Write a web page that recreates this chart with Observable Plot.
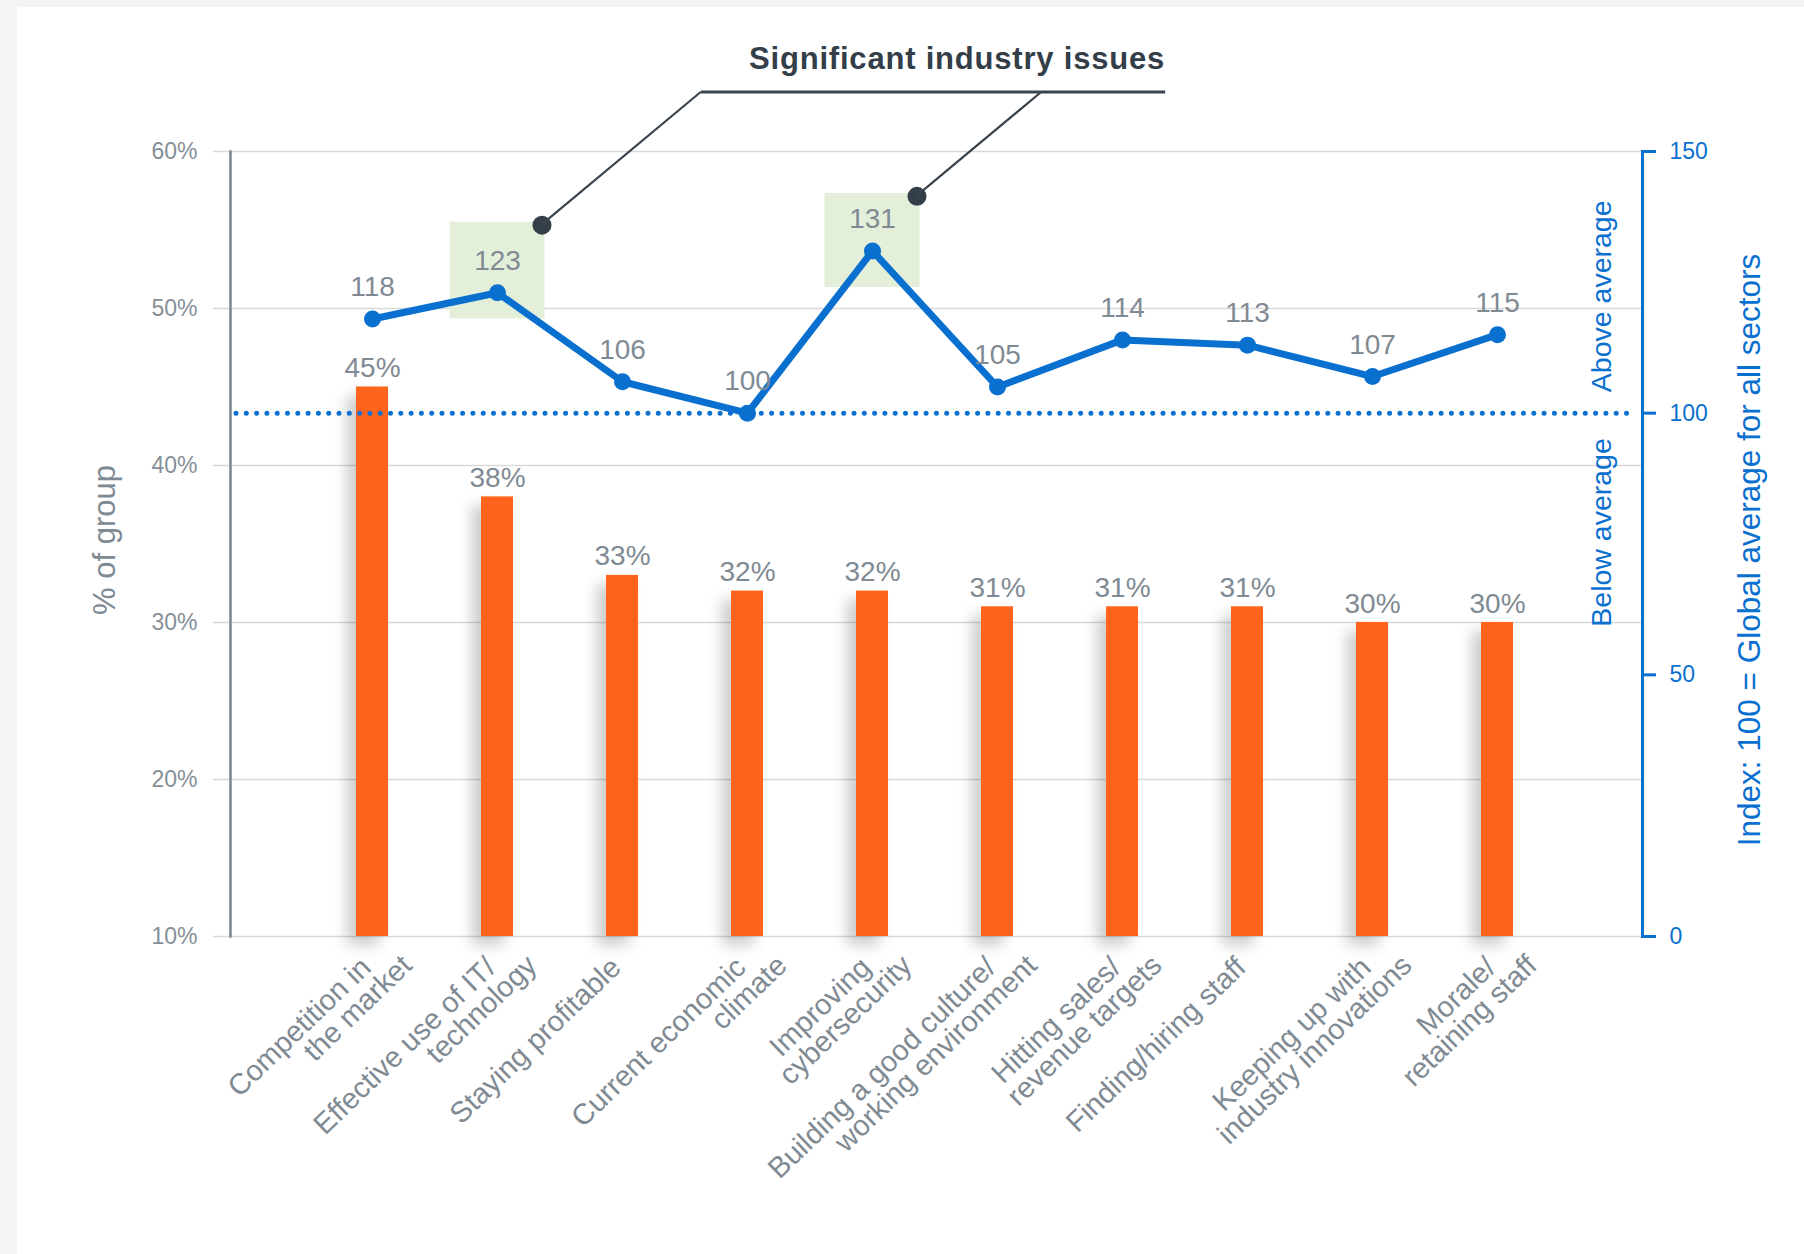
<!DOCTYPE html>
<html><head><meta charset="utf-8">
<script src="https://cdn.jsdelivr.net/npm/d3@7"></script>
<script src="https://cdn.jsdelivr.net/npm/@observablehq/plot@0.6"></script>
<style>
html,body{margin:0;padding:0;background:#f3f5f4;width:1804px;height:1254px;overflow:hidden}
#card{position:absolute;left:17px;top:7px;right:0;bottom:0;background:#fff}
#chart{position:absolute;left:0;top:0}
</style></head><body><div id="card"></div><div id="chart"></div>
<script>
// ---- data ----
const categories = [
  "Competition in\nthe market",
  "Effective use of IT/\ntechnology",
  "Staying profitable",
  "Current economic\nclimate",
  "Improving\ncybersecurity",
  "Building a good culture/\nworking environment",
  "Hitting sales/\nrevenue targets",
  "Finding/hiring staff",
  "Keeping up with\nindustry innovations",
  "Morale/\nretaining staff"
];
const shares = [45, 38, 33, 32, 32, 31, 31, 31, 30, 30];          // % of group
const indexValues = [118, 123, 106, 100, 131, 105, 114, 113, 107, 115]; // index (100 = global avg)
const highlighted = ["Effective use of IT/\ntechnology", "Improving\ncybersecurity"];
const highlightLow = [118, 124];     // index units
const highlightHigh = [136.5, 142];
const leftTicks = [10, 20, 30, 40, 50, 60];
const rightTicks = [0, 50, 100, 150];
const annotationTitle = "Significant industry issues";
const leftTitle = "% of group";
const rightTitle = "Index: 100 = Global average for all sectors";
const aboveLabel = "Above average";
const belowLabel = "Below average";

// ---- layout / style ----
const W = 1804, H = 1254, mL = 230, mR = 162, mT = 151, mB = 318;
const blue = "#0a70cf", orange = "#ff631a", grey = "#808a93", dark = "#333e48";
const pctDomain = [10, 60], idxDomain = [0, 150];
const pctOf = v => pctDomain[0] + (v - idxDomain[0]) * (pctDomain[1] - pctDomain[0]) / (idxDomain[1] - idxDomain[0]);
const idxOf = p => idxDomain[0] + (p - pctDomain[0]) * (idxDomain[1] - idxDomain[0]) / (pctDomain[1] - pctDomain[0]);

const data = categories.map((c, i) => {
  const parts = c.split("\n");
  return {cat: c, share: shares[i], idx: indexValues[i], l1: parts[0], l2: parts[1] || ""};
});
const hi = highlighted.map((c, i) => ({cat: c, lo: highlightLow[i], hi: highlightHigh[i]}));
const twoLine = data.filter(d => d.l2);

const plot = Plot.plot({
  width: W, height: H, marginLeft: mL, marginRight: mR, marginTop: mT, marginBottom: mB,
  style: {background: "transparent", fontFamily: "'Liberation Sans', Arial, Helvetica, sans-serif", overflow: "visible"},
  x: {domain: categories, range: [mL + 76, W - mR - 80], paddingInner: 0.745, paddingOuter: 0.3725, axis: null},
  y: {domain: pctDomain, axis: null},
  marks: [
    Plot.gridY(leftTicks, {stroke: "#d9d9d9", strokeOpacity: 1, strokeWidth: 1.5, insetLeft: -17}),
    Plot.barY(hi, {x: "cat", y1: d => pctOf(d.lo), y2: d => pctOf(d.hi), insetLeft: -31.5, insetRight: -31.5, fill: "#e3efd9"}),
    Plot.barY(data, {x: "cat", y1: pctDomain[0], y2: "share", fill: orange}),
    Plot.ruleY([pctOf(100)], {stroke: blue, strokeWidth: 5, strokeDasharray: "0 10.3", strokeLinecap: "round", insetLeft: 6, insetRight: 8}),
    Plot.line(data, {x: "cat", y: d => pctOf(d.idx), stroke: blue, strokeWidth: 7, strokeLinejoin: "round"}),
    Plot.dot(data, {x: "cat", y: d => pctOf(d.idx), r: 8.5, fill: blue}),
    Plot.text(data, {x: "cat", y: d => pctOf(d.idx), text: d => String(d.idx), dy: -23, lineAnchor: "bottom", fontSize: 28, fill: grey}),
    Plot.text(data, {x: "cat", y: "share", text: d => d.share + "%", dy: -10, lineAnchor: "bottom", fontSize: 28, fill: grey}),
    Plot.text(data, {x: "cat", frameAnchor: "bottom", text: "l1", rotate: -44, textAnchor: "end", lineAnchor: "bottom", dx: 0, dy: 33, fontSize: 29, fill: grey}),
    Plot.text(twoLine, {x: "cat", frameAnchor: "bottom", text: "l2", rotate: -44, textAnchor: "end", lineAnchor: "bottom", dx: 41, dy: 31, fontSize: 29, fill: grey}),
    Plot.dot(hi, {x: "cat", y: d => pctOf(d.hi), dx: 44.5, dy: 3, r: 9.5, fill: dark}),
    Plot.axisY(leftTicks, {anchor: "left", label: null, tickSize: 0, tickPadding: 33, tickFormat: d => d + "%", fontSize: 23, fill: "#868f97"}),
    Plot.axisY(rightTicks.map(pctOf), {anchor: "right", label: null, tickSize: 13, tickPadding: 14, stroke: blue, strokeWidth: 3, fill: blue, fontSize: 23, tickFormat: d => String(Math.round(idxOf(d)))}),
    Plot.frame({anchor: "left", stroke: "#7b868f", strokeWidth: 2.5}),
    Plot.frame({anchor: "right", stroke: blue, strokeWidth: 3}),
    Plot.text([leftTitle], {frameAnchor: "left", dx: -116, dy: -4, rotate: -90, textAnchor: "middle", lineAnchor: "bottom", fontSize: 31, fill: grey}),
    Plot.text([aboveLabel], {frameAnchor: "right", y: () => pctOf(100), dx: -32, dy: -21, rotate: -90, textAnchor: "start", lineAnchor: "bottom", fontSize: 28.5, fill: blue}),
    Plot.text([belowLabel], {frameAnchor: "right", y: () => pctOf(100), dx: -32, dy: 25, rotate: -90, textAnchor: "end", lineAnchor: "bottom", fontSize: 28.5, fill: blue}),
    Plot.text([rightTitle], {frameAnchor: "right", dx: 117, dy: 6, rotate: -90, textAnchor: "middle", lineAnchor: "bottom", fontSize: 31.5, fill: blue})
  ]
});
document.getElementById("chart").appendChild(plot);

// ---- bar shadows ----
const svg = d3.select(plot);
const defs = svg.insert("defs", ":first-child");
const f = defs.append("filter").attr("id", "barShadow")
  .attr("x", "-20%").attr("y", "-10%").attr("width", "140%").attr("height", "130%");
f.append("feDropShadow").attr("dx", -9).attr("dy", 9).attr("stdDeviation", 7)
  .attr("flood-color", "#000").attr("flood-opacity", 0.2);
svg.selectAll('g[aria-label="bar"]').filter(function () {
  return (this.getAttribute("fill") || "").toLowerCase() === orange;
}).attr("filter", "url(#barShadow)");

// ---- annotation leader lines + title ----
const xs = plot.scale("x"), ys = plot.scale("y");
const lineY = mT - 59;
const pts = hi.map(d => {
  const x = xs.apply(d.cat) + xs.bandwidth / 2 + 44.5;
  const y = ys.apply(pctOf(d.hi)) + 3;
  return {x, y, ex: x + (y - lineY) * 1.2};
});
const ag = svg.append("g").attr("fill", "none").attr("stroke", "#3a444e");
pts.forEach(p => ag.append("path").attr("d", `M${p.x},${p.y}L${p.ex},${lineY}`).attr("stroke-width", 2.2));
const titleEnd = pts[pts.length - 1].ex + 124;
ag.append("path").attr("d", `M${pts[0].ex},${lineY}H${titleEnd}`).attr("stroke-width", 3);
svg.append("text").attr("x", titleEnd).attr("y", lineY - 23).attr("text-anchor", "end")
  .attr("font-size", 31).attr("font-weight", 700).attr("letter-spacing", 0.8).attr("fill", dark)
  .text(annotationTitle);
</script></body></html>
